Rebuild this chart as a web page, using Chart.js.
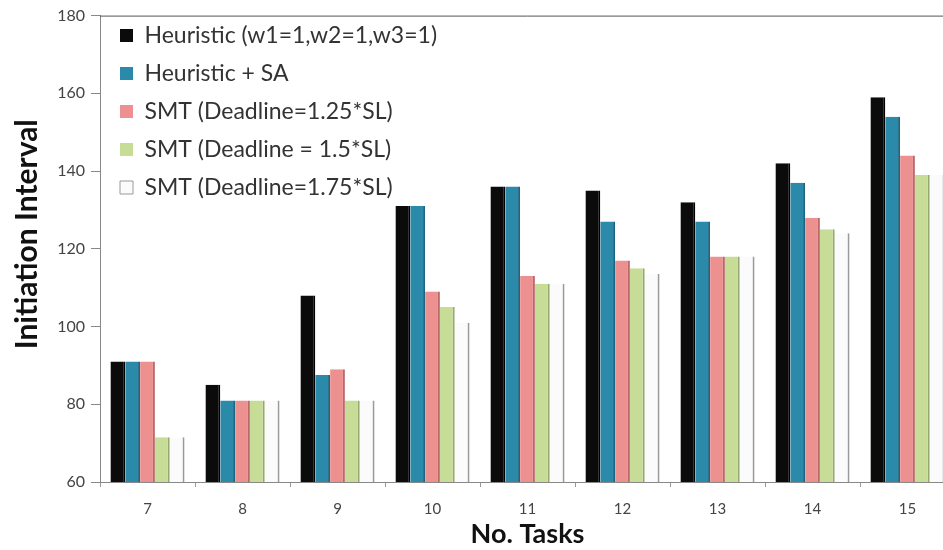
<!DOCTYPE html>
<html>
<head>
<meta charset="utf-8">
<script src="https://cdn.jsdelivr.net/npm/chart.js@4/dist/chart.umd.min.js"></script>
<style>
  html, body { margin: 0; padding: 0; background: #fff; overflow: hidden; }
  #wrap { position: relative; width: 965px; height: 550px; }
</style>
</head>
<body>
<div id="wrap"><canvas id="c" width="965" height="550"></canvas></div>
<script>
// Number of tasks per benchmark
const categories = ['7', '8', '9', '10', '11', '12', '13', '14', '15'];

// Initiation interval achieved by each approach
const heuristic   = [91, 85, 108, 131, 136, 135, 132, 142, 159];
const heuristicSA = [91, 81, 87.5, 131, 136, 127, 127, 137, 154];
const smt125      = [91, 81, 89, 109, 113, 117, 118, 128, 144];
const smt150      = [71.5, 81, 81, 105, 111, 115, 118, 125, 139];
const smt175      = [71.5, 81, 81, 101, 111, 113.5, 118, 124, 139];

const seriesNames = [
  'Heuristic (w1=1,w2=1,w3=1)',
  'Heuristic + SA',
  'SMT (Deadline=1.25*SL)',
  'SMT (Deadline = 1.5*SL)',
  'SMT (Deadline=1.75*SL)'
];
const yTicks = [60, 80, 100, 120, 140, 160, 180];

const fills   = ['#0b0b0b', '#2b8aa9', '#ec9090', '#c7dc97', '#fbfbfb'];
const edges   = ['#000000', '#1d6580', '#b86a6a', '#96a870', '#9a9a9a'];

const seriesValues = [heuristic, heuristicSA, smt125, smt150, smt175];

// Thin line across the top of the plot area
const frameTop = {
  id: 'frameTop',
  afterDraw(chart) {
    const { ctx, chartArea } = chart;
    ctx.save();
    ctx.strokeStyle = '#555';
    ctx.lineWidth = 1;
    ctx.beginPath();
    ctx.moveTo(chartArea.left, chartArea.top + 0.5);
    ctx.lineTo(chartArea.right, chartArea.top + 0.5);
    ctx.stroke();
    ctx.restore();
  }
};

// Nudge the in-plot legend a little away from the corner
const legendNudge = {
  id: 'legendNudge',
  afterLayout(chart) {
    const lg = chart.legend;
    if (!lg) return;
    lg.left += 5; lg.right += 5;
    lg.top += 9; lg.bottom += 9;
  }
};

new Chart(document.getElementById('c'), {
  type: 'bar',
  data: {
    labels: categories,
    datasets: seriesValues.map((vals, i) => ({
      label: seriesNames[i],
      data: vals,
      backgroundColor: fills[i],
      borderColor: edges[i],
      borderWidth: { left: 0, right: 2, top: 0, bottom: 0 },
      borderSkipped: false,
      categoryPercentage: 0.78,
      barPercentage: 1.0
    }))
  },
  options: {
    responsive: false,
    animation: false,
    layout: { padding: { left: 0, right: 10, top: 13, bottom: 0 } },
    plugins: {
      tooltip: { enabled: false },
      legend: {
        position: 'chartArea',
        align: 'start',
        labels: {
          boxWidth: 13,
          boxHeight: 13,
          padding: 15,
          color: '#333',
          font: { family: 'Lato', size: 23 },
          generateLabels(chart) {
            return chart.data.datasets.map((ds, i) => ({
              text: ds.label,
              fillStyle: ds.backgroundColor,
              strokeStyle: '#999',
              lineWidth: i === 4 ? 1 : 0,
              datasetIndex: i,
              fontColor: '#333'
            }));
          }
        }
      }
    },
    scales: {
      x: {
        offset: true,
        grid: { display: true, drawOnChartArea: false, drawTicks: true, tickLength: 5, color: '#999' },
        border: { display: true, color: '#888' },
        ticks: { color: '#444', font: { family: 'Lato', size: 15 }, padding: 13 },
        title: {
          display: true,
          text: 'No. Tasks',
          color: '#111',
          font: { family: 'Lato', size: 27, weight: 'bold' },
          padding: { top: 0, bottom: 0 }
        },
        afterFit(s) { s.height = 68; }
      },
      y: {
        min: 60,
        max: 180,
        afterBuildTicks(s) { s.ticks = yTicks.map(v => ({ value: v })); },
        grid: { display: true, drawOnChartArea: false, drawTicks: true, tickLength: 9, color: '#888' },
        border: { display: true, color: '#888' },
        ticks: { color: '#444', font: { family: 'Lato', size: 16 }, padding: 6 },
        title: {
          display: true,
          text: '    Initiation Interval',
          color: '#111',
          font: { family: 'Lato', size: 30, weight: 'bold' },
          padding: { top: 9, bottom: 0 }
        },
        afterFit(s) { s.width = 100; }
      }
    }
  },
  plugins: [frameTop, legendNudge]
});
</script>
</body>
</html>
